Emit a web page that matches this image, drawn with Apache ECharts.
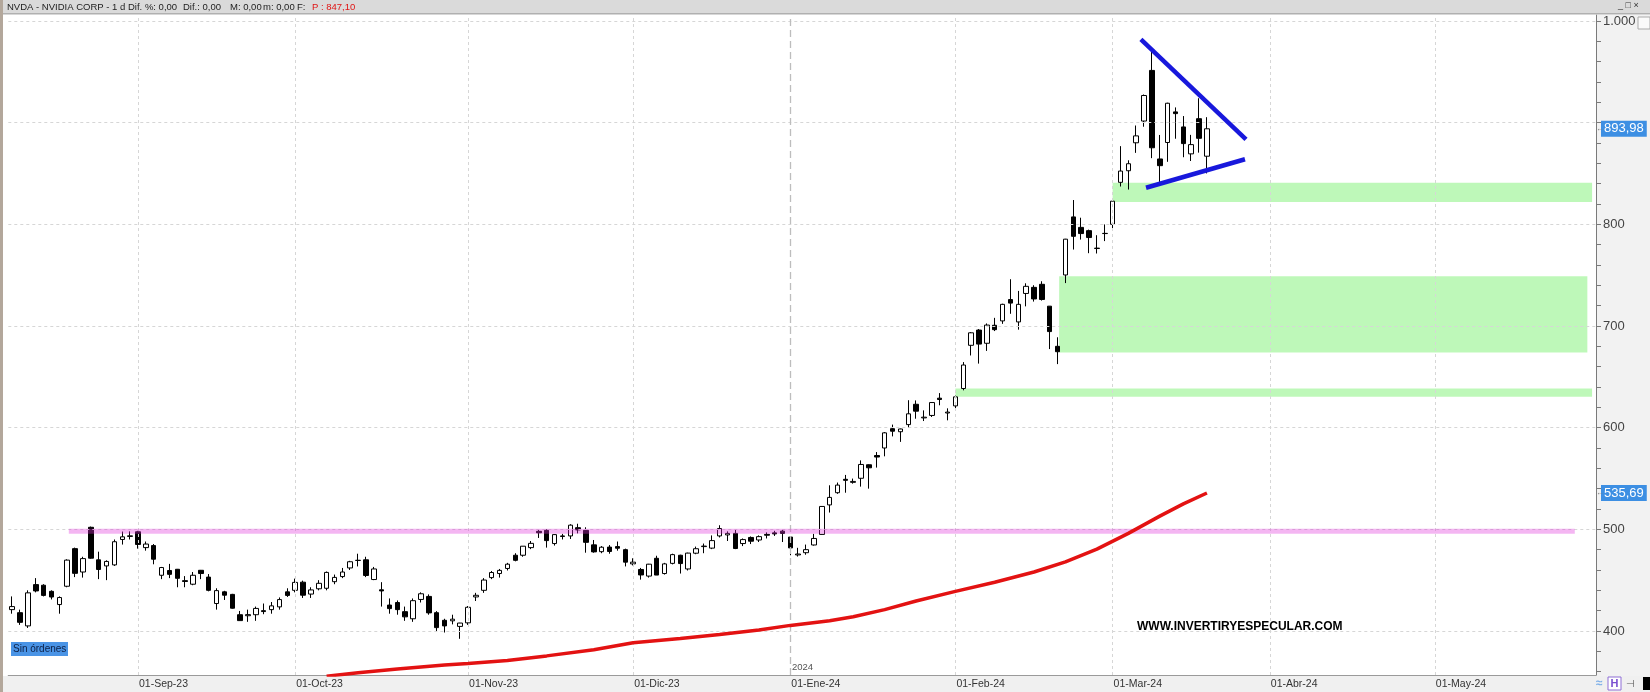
<!DOCTYPE html>
<html><head><meta charset="utf-8">
<script src="https://cdn.jsdelivr.net/npm/echarts@6/dist/echarts.min.js"></script>
<style>html,body{margin:0;padding:0;background:#fff;overflow:hidden}#c{width:1650px;height:692px}</style>
</head><body><div id="c"></div>
<script>
// ---------- DATA ----------
// trading days per month (x categories; future days continue the axis)
const monthDays = [
 ['2023-08',[10,11,14,15,16,17,18,21,22,23,24,25,28,29,30,31]],
 ['2023-09',[1,5,6,7,8,11,12,13,14,15,18,19,20,21,22,25,26,27,28,29]],
 ['2023-10',[2,3,4,5,6,9,10,11,12,13,16,17,18,19,20,23,24,25,26,27,30,31]],
 ['2023-11',[1,2,3,6,7,8,9,10,13,14,15,16,17,20,21,22,24,27,28,29,30]],
 ['2023-12',[1,4,5,6,7,8,11,12,13,14,15,18,19,20,21,22,26,27,28,29]],
 ['2024-01',[2,3,4,5,8,9,10,11,12,16,17,18,19,22,23,24,25,26,29,30,31]],
 ['2024-02',[1,2,5,6,7,8,9,12,13,14,15,16,20,21,22,23,26,27,28,29]],
 ['2024-03',[1,4,5,6,7,8,11,12,13,14,15,18,19,20,21,22,25,26,27,28]],
 ['2024-04',[1,2,3,4,5,8,9,10,11,12,15,16,17,18,19,22,23,24,25,26,29]],
 ['2024-05',[1,2,3,6,7,8,9,10,13,14,15,16,17,20,21,22,23,24,27,28,29]]
];
const monthNames = {'01':'Ene','02':'Feb','03':'Mar','04':'Abr','05':'May','06':'Jun','07':'Jul','08':'Ago','09':'Sep','10':'Oct','11':'Nov','12':'Dic'};

const opens = [421,418,405,445.6,445,439,426,444,481,458,502,470,464,465,490,493,
 497.6,482,484,454.8,459.5,460.7,449.5,446,459.7,453,427,438.5,436,416,415,416,420,421,423.7,438.5,
 440,448,436.3,441.5,442,448.5,453.5,462,469.5,470,450.6,440.5,425.5,428,419,412,431,434,418,410.5,410,404.5,
 408,433.5,440,452.5,456.5,461.5,474.5,474.5,482,498,499,486,493.5,493.5,501.6,499,484.7,478,482.5,483,480,
 466,460.5,454,471.5,456.5,466.5,474.5,461,476.5,483,481.5,493.5,494.5,496,486,492,489.5,495,496.5,498.2,
 492.4,474.8,477,484.6,495,524,536,549.2,546.2,550.2,563.5,572.6,580,599,596,603,623,609.6,612,629,614.4,
 621.4,638.5,681,696,683,700.7,705,726,704,732,738,741,719.5,680,750.2,807.3,797,793.8,776.2,790.9,
 800,841.3,852.7,880.2,901.6,951.4,864.3,880.5,910.6,895.8,869.3,903.9,867];
const highs = [434,421,440,452,446,440,434,470.5,482,473,502.7,478,469.5,490,497.8,498,
 498.5,488,485.5,463,466,461,454,458,460,456,442,439.5,436.5,419.7,421,424,427,428.5,433,442,
 451.5,449.5,443,450,458.5,455.5,462,469,476,473,463,448,432,430,424,432,438,436,419.5,412,416,408,
 424.5,437.5,452,459,461,467,476.5,483.5,488.5,499.5,500,495,495.5,505,505.5,502,489.5,483.5,484.5,488,481,
 471.5,462,466,474,467,476,475,477,483,486,494,504,498,499.5,491,493,494,497,498.5,499.5,
 493,481.8,485,495.5,522.8,543.3,546,553.5,549.9,567.8,563.9,576,595.7,603,599,627,626.8,617,625,634,619,
 631.5,664.5,694,697,702.5,708,721.9,746,734.5,742,740.1,744,719.5,688.9,785.7,823.9,806.5,794.8,789.3,799.9,
 823,876.9,863,897.2,927.7,973,887.9,919.6,915,906.5,888,924,905.4];
const lows = [417,406,403,438,434,431,417,443,453,452.5,471,451,450,464,485,490,
 481,479,465.6,451,452,443,443,445,451,439,421,430.5,422,410,409,410,416.5,417,421,433.5,
 438,432.5,432.5,440,440,446,452,460,463.5,453,450,424,417,416,410,409,428,416,400,398.5,406.5,392.3,
 406,429.5,437.5,451,452.5,459.5,468.5,473,480.5,491.5,482,484,490,490.5,496,477,477,476.5,476,479,463.5,
 464.5,450.5,452.5,455,455.5,465.5,456.5,459.5,475.5,476.5,480.5,492,488.5,480.5,483.5,485.5,487.5,491,493.5,487.5,
 474.5,473.2,475,484,494.8,516.5,534.9,536,544.9,542,540,560.7,571.8,591.4,586,600,608.8,606.5,610.5,622,607.2,
 616.4,636.7,671,663,675.5,695,702.1,712,696.4,719.3,724,725,677.3,662.5,742.2,775.2,785,771.6,771.3,783.5,
 794.3,837.2,834.2,870.3,896,865.1,841.7,861.5,884.2,866,862.3,870.5,850.1];
const closes = [424,408.5,437.5,439.4,435,433.4,432.9,469.7,456.7,471.2,471.6,460.5,468.4,487.8,492.6,493.6,
 485.1,485.5,470.6,462.4,455.7,451.8,448.7,454.8,456.5,440,439.7,435.2,422.4,410.2,416.1,422.2,419.1,424.7,430.9,435,
 447.8,435.2,440.4,446.9,457.6,452.7,458,468.1,469.4,454.6,461,439.4,422,421,413.9,429.8,436.6,417.8,403.3,405,411.6,407.8,
 423.3,435.1,450.1,457.5,459.6,465.7,469.5,483.4,486.2,496.6,488.9,494.8,493,504.1,499.4,487.2,477.8,482.4,478.2,481.4,467.7,
 467.7,455.1,465.7,455,466,475.1,466.3,476.6,480.9,483.5,488.9,500.8,496,481.1,489.9,488.3,492.8,494.2,495.5,496,
 481.7,475.7,480,491,522.5,531.4,543.5,548.2,547.1,563.8,560.5,571.1,594.9,596.5,598.7,613.6,616.2,610.3,624.7,627.7,615.3,
 630.3,661.6,693.3,682.2,700.9,696.4,721.3,722.5,721.3,739,726.6,726.1,694.5,674.7,785.4,788.2,790.9,787,776.6,791.1,
 822.8,852.4,859.6,887,926.7,875.3,857.7,919.1,908.9,879.4,878.4,884.6,893.98];

// 200-session moving average, read at a set of sessions: [session index, value]
const smaPoints = [[40,355.5],[44,359],[49,362.5],[55,366.5],[58,368],[63,371],[68,375.5],[74,381.5],
 [79,388.5],[85,392.5],[90,396.5],[95,401],[99,405.5],[104,410],[107,414],[111,421],[115,429.5],
 [120,439],[125,448],[130,458],[134,468],[138,480.5],[142,496],[146,513],[149,525],[152,535.69]];

const resistanceLevel = 498;                 // pink horizontal line
const gapZones = [[140,822,841,201.0],[133.2,674,749,200.4],[120,630.5,638.5,201.0]]; // [start, low, high, end]
const triangleUpper = [[143.6,982],[156.97,883.6]];
const triangleLower = [[144.25,836],[156.84,864]];
const lastPrice = 893.98, lastSma = 535.69;
const yGridValues = [400,500,600,700,800,900,1000];
const yLabelValues = [400,500,600,700,800,1000];   // 900 is covered by the price tag
const yTickValues = [360,380,400,420,440,460,480,500,520,540,560,580,600,620,640,660,680,700,720,740,760,780,800,820,840,860,880,900,920,940,960,980,1000];

// ---------- BUILD ----------
const categories = [];
monthDays.forEach(([ym, days]) => days.forEach(d => categories.push(ym + '-' + String(d).padStart(2,'0'))));
const N = categories.length;
const monthStart = [];
for (let i = 1; i < N; i++) if (categories[i].slice(0,7) !== categories[i-1].slice(0,7)) monthStart.push(i);
const msSet = new Set(monthStart);
const candleData = opens.map((o,i) => [o, closes[i], lows[i], highs[i]]);
const fmtDate = c => '01-' + monthNames[c.slice(5,7)] + '-' + c.slice(2,4);
const janIdx = categories.indexOf('2024-01-02');

const FONT = 'Liberation Sans, Arial, sans-serif';
const chart = echarts.init(document.getElementById('c'), null, {renderer:'canvas'});

const gridMarks = [];
yGridValues.forEach(v => gridMarks.push({yAxis: v}));
monthStart.forEach(i => { if (i !== janIdx) gridMarks.push({xAxis: i}); });
gridMarks.push({xAxis: janIdx, lineStyle:{color:'#bdbdbd', type:[7,4], width:1.3}});

const option = {
  animation: false,
  backgroundColor: '#ffffff',
  grid: {left: 8.3, right: 54, top: 15, bottom: 17},
  xAxis: [
    {type:'category', data: categories, boundaryGap: true,
     axisLine:{onZero:false, lineStyle:{color:'#9a9a9a', width:1.2}},
     axisTick:{alignWithLabel:true, interval:(i)=>msSet.has(i), length:7, lineStyle:{color:'#777'}},
     axisLabel:{interval:(i)=>msSet.has(i), formatter:(v)=>fmtDate(v), align:'left', margin:4,
       color:'#333', fontSize:10.5, fontFamily:FONT, padding:[0,0,0,1]},
     splitLine:{show:false}},
    {type:'value', min:-0.5, max:N-0.5, show:false, axisLine:{onZero:false}}
  ],
  yAxis: {type:'value', position:'right', min:356.7, max:1005.9,
    axisLine:{show:true, onZero:false, lineStyle:{color:'#7a7a7a'}},
    axisTick:{show:true, customValues: yTickValues, length:5, lineStyle:{color:'#7a7a7a'}},
    axisLabel:{customValues: yLabelValues, formatter:(v)=> v>=1000 ? '1.000' : String(v), margin:7,
      color:'#444', fontSize:13, fontFamily:FONT},
    splitLine:{show:false}},
  series: [
    {type:'line', xAxisIndex:1, data:[[-5,-5]], symbol:'none', lineStyle:{opacity:0}, z:1, silent:true,
     markLine:{silent:true, symbol:['none','none'], label:{show:false},
       lineStyle:{color:'#d6d6d6', type:[3,3], width:1}, data: gridMarks}},
    {type:'candlestick', xAxisIndex:0, data: candleData, barWidth:5, z:3,
     itemStyle:{color:'#ffffff', color0:'#000000', borderColor:'#000000', borderColor0:'#000000', borderWidth:1}},
    {type:'line', xAxisIndex:1, data:[[-5,-5]], symbol:'none', lineStyle:{opacity:0}, z:4, silent:true,
     markArea:{silent:true, itemStyle:{color:'rgba(69,235,55,0.35)'},
       data: gapZones.map(z => [{xAxis:z[0], yAxis:z[1]}, {xAxis:z[3], yAxis:z[2]}])}},
    {type:'line', xAxisIndex:1, data:[[7.2,resistanceLevel],[198.8,resistanceLevel]], symbol:'none', z:5, silent:true,
     lineStyle:{color:'rgba(224,46,218,0.35)', width:5}},
    {type:'line', xAxisIndex:1, data: smaPoints, symbol:'none', z:6, silent:true,
     lineStyle:{color:'#e31212', width:3.5}},
    {type:'line', xAxisIndex:1, data: triangleUpper, symbol:'none', z:7, silent:true,
     lineStyle:{color:'#1818dc', width:4.5}},
    {type:'line', xAxisIndex:1, data: triangleLower, symbol:'none', z:7, silent:true,
     lineStyle:{color:'#1818dc', width:4.5}},
    {type:'line', xAxisIndex:1, data:[[-5,-5]], symbol:'none', lineStyle:{opacity:0}, z:8, silent:true, clip:false,
     markLine:{silent:true, symbol:['none','none'], lineStyle:{color:'rgba(0,0,0,0)', width:1, type:'solid'},
       label:{show:true, position:'end', distance:5, backgroundColor:'#3d8fe3', color:'#ffffff', opacity:1,
         fontSize:13, fontFamily:FONT, padding:[2,3,1,3]},
       data:[{yAxis:lastPrice, label:{formatter:'893,98'}}, {yAxis:lastSma, label:{formatter:'535,69'}}]}}
  ],
  graphic: {elements: [
    {type:'rect', z:-10, shape:{x:1596,y:15,width:54,height:661}, style:{fill:'#f2f2f2'}, silent:true},
    {type:'rect', z:-10, shape:{x:0,y:676,width:1650,height:16}, style:{fill:'#f0f0f0'}, silent:true},
    {type:'rect', z:10, shape:{x:0,y:0,width:1650,height:14}, style:{fill:'#dadada'}, silent:true},
    {type:'rect', z:10, shape:{x:0,y:13,width:1650,height:1.5}, style:{fill:'#b0b0b0'}, silent:true},
    {type:'rect', z:10, shape:{x:0,y:0,width:3,height:692}, style:{fill:'#b3a79b'}, silent:true},
    {type:'text', z:11, x:7, y:7, style:{text:'NVDA - NVIDIA CORP -', fill:'#222', font:'9.5px '+FONT, textVerticalAlign:'middle'}},
    {type:'text', z:11, x:112, y:7, style:{text:'1 d', fill:'#222', font:'9.5px '+FONT, textVerticalAlign:'middle'}},
    {type:'text', z:11, x:128, y:7, style:{text:'Dif. %: 0,00', fill:'#222', font:'9.5px '+FONT, textVerticalAlign:'middle'}},
    {type:'text', z:11, x:183, y:7, style:{text:'Dif.: 0,00', fill:'#222', font:'9.5px '+FONT, textVerticalAlign:'middle'}},
    {type:'text', z:11, x:230, y:7, style:{text:'M: 0,00', fill:'#222', font:'9.5px '+FONT, textVerticalAlign:'middle'}},
    {type:'text', z:11, x:263, y:7, style:{text:'m: 0,00', fill:'#222', font:'9.5px '+FONT, textVerticalAlign:'middle'}},
    {type:'text', z:11, x:297, y:7, style:{text:'F:', fill:'#222', font:'9.5px '+FONT, textVerticalAlign:'middle'}},
    {type:'text', z:11, x:312, y:7, style:{text:'P : 847,10', fill:'#e01515', font:'9.5px '+FONT, textVerticalAlign:'middle'}},
    {type:'text', z:11, x:1618, y:6, style:{text:'_ □ ×', fill:'#333', font:'9px '+FONT, textVerticalAlign:'middle'}},
    {type:'rect', z:11, shape:{x:1638,y:17,width:12,height:12}, style:{fill:'#fafafa', stroke:'#aaa', lineWidth:1}},
    {type:'text', z:11, x:1596, y:129, style:{text:'←', fill:'#777', font:'8px '+FONT, textVerticalAlign:'middle'}},
    {type:'text', z:11, x:1596, y:493, style:{text:'←', fill:'#777', font:'8px '+FONT, textVerticalAlign:'middle'}},
    {type:'rect', z:11, shape:{x:11,y:642,width:57,height:14}, style:{fill:'#4a94e6'}},
    {type:'text', z:12, x:13, y:649.5, style:{text:'Sin órdenes', fill:'#0d1f45', font:'10px '+FONT, textVerticalAlign:'middle'}},
    {type:'text', z:11, x:1137, y:627, style:{text:'WWW.INVERTIRYESPECULAR.COM', fill:'#000', font:'bold 12px '+FONT, textVerticalAlign:'middle'}},
    {type:'text', z:11, x:792, y:667, style:{text:'2024', fill:'#555', font:'9.5px '+FONT, textVerticalAlign:'middle'}},
    {type:'text', z:11, x:1596, y:684, style:{text:'≈', fill:'#7fb0e8', font:'bold 12px '+FONT, textVerticalAlign:'middle'}},
    {type:'rect', z:11, shape:{x:1608,y:677,width:13,height:13}, style:{fill:'#fff', stroke:'#8f6fd6', lineWidth:1}},
    {type:'text', z:12, x:1610.5, y:684, style:{text:'H', fill:'#7a4fd0', font:'bold 11px '+FONT, textVerticalAlign:'middle'}},
    {type:'text', z:11, x:1626, y:684, style:{text:'⊣', fill:'#555', font:'10px '+FONT, textVerticalAlign:'middle'}},
    {type:'rect', z:11, shape:{x:1643,y:677,width:7,height:13}, style:{fill:'#000'}}
  ]}
};
chart.setOption(option);
</script></body></html>
